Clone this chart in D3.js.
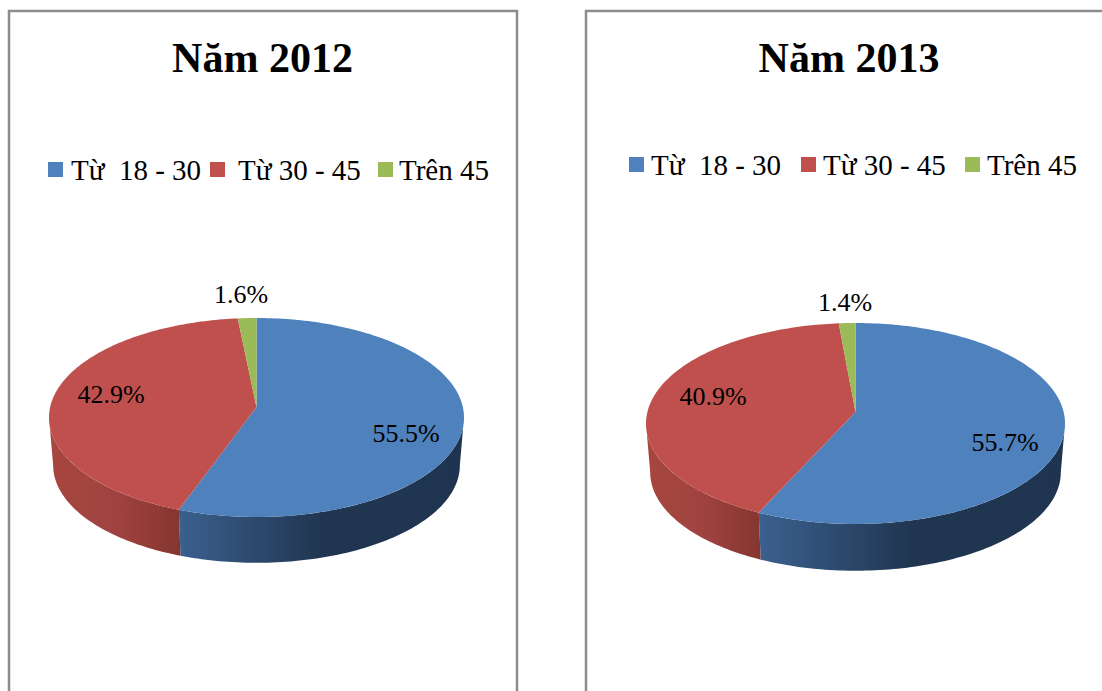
<!DOCTYPE html>
<html>
<head>
<meta charset="utf-8">
<script src="https://cdn.jsdelivr.net/npm/d3@7"></script>
<style>
  html, body { margin: 0; padding: 0; background: #fff; overflow: hidden; }
  text { font-family: "Liberation Serif", serif; fill: #000; }
</style>
</head>
<body>
<div id="chart"></div>
<script>
var categories = ["Từ  18 - 30", "Từ 30 - 45", "Trên 45"];
var years = ["Năm 2012", "Năm 2013"];
var values2012 = [55.5, 42.9, 1.6];
var values2013 = [55.7, 40.9, 1.4];
var colors = ["#4f81bd", "#c0504d", "#9bbb59"];
var sideColors = [["#3b608f", "#203650", "#1f3450"], ["#a8463f", "#a04340", "#85352f"], ["#6f8a3c", "#6f8a3c", "#6f8a3c"]];

var width = 1102, height = 691;

// layout of each panel
var panels = [
  { title: years[0], values: values2012, titleX: 262.5, titleY: 72,
    box: { left: 9, right: 517, top: 11 },
    pie: { cx: 256.5, cy: 417.5, rx: 207.5, ry: 99.5, apexY: 407, depth: 48, scale: 0.98 },
    legendY: 170, swatchX: [48, 210, 378], textX: [71, 238, 399],
    labels: [[406, 433], [111, 394], [241, 294]] },
  { title: years[1], values: values2013, titleX: 849, titleY: 72,
    box: { left: 586, right: null, top: 11 },
    pie: { cx: 855.5, cy: 423.5, rx: 209.5, ry: 100.5, apexY: 412, depth: 49, scale: 0.98 },
    legendY: 165, swatchX: [629, 801, 965], textX: [651, 823, 987],
    labels: [[1005, 442], [713, 396], [845, 302]] }
];

var svg = d3.select("#chart").append("svg")
  .attr("width", width)
  .attr("height", height)
  .style("display", "block");

var defs = svg.append("defs");
sideColors.forEach(function(c, i) {
  var g = defs.append("linearGradient").attr("id", "side" + i);
  g.selectAll("stop").data(c).enter().append("stop")
    .attr("offset", function(d, j) { return j / (c.length - 1); })
    .attr("stop-color", function(d) { return d; });
});

var pie = d3.pie().sort(null);
var line = d3.line();
var percent = d3.format(".1f");

// perspective of the disc: the far half looks shorter than the near half
function perspective(p) {
  var far = p.apexY - (p.cy - p.ry);
  var near = p.cy + p.ry - p.apexY;
  var k = (near - far) / (near + far);
  return { k: k, r: far * (1 + k), a: p.rx * Math.sqrt(1 - k * k) };
}

function rimPoints(p, a0, a1, dy, scale) {
  var v = perspective(p);
  var n = Math.max(2, Math.ceil((a1 - a0) / 0.02));
  return d3.range(n + 1).map(function(i) {
    var t = a0 + (a1 - a0) * i / n;
    var w = 1 + v.k * Math.cos(t);
    return [p.cx + scale * v.a * Math.sin(t) / w, p.apexY + dy - scale * v.r * Math.cos(t) / w];
  });
}

panels.forEach(function(panel) {
  var g = svg.append("g");
  var p = panel.pie;
  var b = panel.box;

  // frame runs past the bottom of the picture
  var frame = "M" + b.left + "," + (height + 5) + "V" + b.top + "H" + (b.right || width + 5);
  if (b.right) frame += "V" + (height + 5);
  g.append("path").attr("d", frame)
    .attr("fill", "none").attr("stroke", "#8c8c8c").attr("stroke-width", 2.5);

  g.append("text").text(panel.title)
    .attr("x", panel.titleX).attr("y", panel.titleY)
    .attr("text-anchor", "middle")
    .attr("font-size", 42).attr("font-weight", "bold");

  // legend
  var legend = g.selectAll(".legend").data(categories).enter().append("g");
  legend.append("rect")
    .attr("x", function(d, i) { return panel.swatchX[i]; })
    .attr("y", panel.legendY - 8)
    .attr("width", 15).attr("height", 15)
    .attr("fill", function(d, i) { return colors[i]; });
  legend.append("text").text(function(d) { return d; })
    .attr("x", function(d, i) { return panel.textX[i]; })
    .attr("y", panel.legendY + 10)
    .attr("font-size", 29)
    .style("white-space", "pre");

  var arcs = pie(panel.values);
  var k = perspective(p).k;
  var sideStart = Math.acos(-k);

  // side wall, only the front of the disc shows
  arcs.forEach(function(d, i) {
    var a0 = Math.max(d.startAngle, sideStart);
    var a1 = Math.min(d.endAngle, Math.PI * 2 - sideStart);
    if (a1 <= a0) return;
    var top = rimPoints(p, a0, a1, 0, 1);
    var bottom = rimPoints(p, a0, a1, p.depth, p.scale).reverse();
    g.append("path")
      .attr("d", line(top.concat(bottom)) + "Z")
      .attr("fill", "url(#side" + i + ")");
  });

  // top face
  arcs.forEach(function(d, i) {
    var pts = [[p.cx, p.apexY]].concat(rimPoints(p, d.startAngle, d.endAngle, 0, 1));
    g.append("path")
      .attr("d", line(pts) + "Z")
      .attr("fill", colors[i]);
  });

  g.selectAll(".lab").data(arcs).enter().append("text")
    .text(function(d) { return percent(d.data) + "%"; })
    .attr("x", function(d, i) { return panel.labels[i][0]; })
    .attr("y", function(d, i) { return panel.labels[i][1] + 9; })
    .attr("text-anchor", "middle")
    .attr("font-size", 26);
});
</script>
</body>
</html>
